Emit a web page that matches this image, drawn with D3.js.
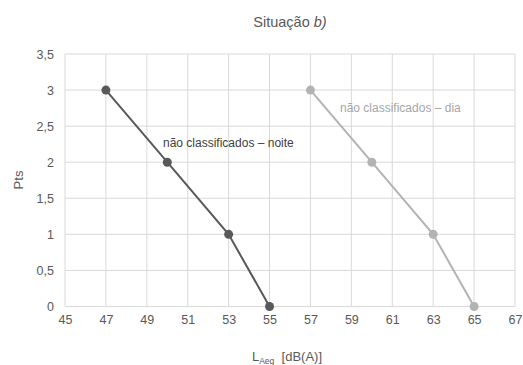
<!DOCTYPE html>
<html>
<head>
<meta charset="utf-8">
<script src="https://cdn.jsdelivr.net/npm/d3@7"></script>
<style>
  body { margin: 0; background: #fff; }
  svg, svg text { font-family: "Liberation Sans", Arial, sans-serif; }
</style>
</head>
<body>
<svg id="chart" width="523" height="365"></svg>
<script>
const noiteX = [47, 50, 53, 55]
const noiteY = [3, 2, 1, 0]
const diaX = [57, 60, 63, 65]
const diaY = [3, 2, 1, 0]
const xTicks = [45, 47, 49, 51, 53, 55, 57, 59, 61, 63, 65, 67]
const yTicks = [0, 0.5, 1, 1.5, 2, 2.5, 3, 3.5]

const margin = { top: 54, right: 8, bottom: 58.5, left: 65 }
const width = 523, height = 365

const svg = d3.select('#chart')
const x = d3.scaleLinear().domain([45, 67]).range([margin.left, width - margin.right])
const y = d3.scaleLinear().domain([0, 3.5]).range([height - margin.bottom, margin.top])
const fmt = (d) => String(d).replace('.', ',')

// grid
svg.append('g').selectAll('line').data(xTicks).enter().append('line')
  .attr('x1', (d) => x(d)).attr('x2', (d) => x(d))
  .attr('y1', y(0)).attr('y2', y(3.5))
  .attr('stroke', '#d9d9d9').attr('stroke-width', 1)
svg.append('g').selectAll('line').data(yTicks).enter().append('line')
  .attr('x1', x(45)).attr('x2', x(67))
  .attr('y1', (d) => y(d)).attr('y2', (d) => y(d))
  .attr('stroke', '#d9d9d9').attr('stroke-width', 1)

// axes
svg.append('g')
  .attr('transform', `translate(0,${y(0)})`)
  .call(d3.axisBottom(x).tickValues(xTicks).tickSize(0).tickPadding(9).tickFormat(fmt))
svg.append('g')
  .attr('transform', `translate(${x(45)},0)`)
  .call(d3.axisLeft(y).tickValues(yTicks).tickSize(0).tickPadding(11).tickFormat(fmt))
svg.selectAll('.domain').remove()
svg.selectAll('.tick text').attr('fill', '#595959')
  .style('font-size', '12.5px').style('font-family', '"Liberation Sans", Arial, sans-serif')

// series
const series = [
  { xs: noiteX, ys: noiteY, color: '#595959' },
  { xs: diaX, ys: diaY, color: '#b3b3b3' },
]
const line = d3.line().x((d) => x(d[0])).y((d) => y(d[1]))
series.forEach((s) => {
  const pts = s.xs.map((v, i) => [v, s.ys[i]])
  svg.append('path').datum(pts)
    .attr('d', line).attr('fill', 'none')
    .attr('stroke', s.color).attr('stroke-width', 2)
  svg.append('g').selectAll('circle').data(pts).enter().append('circle')
    .attr('cx', (d) => x(d[0])).attr('cy', (d) => y(d[1]))
    .attr('r', 4.5).attr('fill', s.color)
})

// series labels
svg.append('text').attr('x', 163).attr('y', 147)
  .attr('fill', '#404040').style('font-size', '12px')
  .text('não classificados – noite')
svg.append('text').attr('x', 340).attr('y', 112)
  .attr('fill', '#a6a6a6').style('font-size', '12px')
  .text('não classificados – dia')

// title
const title = svg.append('text').attr('x', 290).attr('y', 27)
  .attr('text-anchor', 'middle').attr('fill', '#595959').style('font-size', '14.5px')
title.append('tspan').text('Situação ')
title.append('tspan').style('font-style', 'italic').text('b)')

// axis titles
svg.append('text').attr('transform', 'translate(23,180) rotate(-90)')
  .attr('text-anchor', 'middle').attr('fill', '#595959').style('font-size', '13px')
  .text('Pts')
const xl = svg.append('text').attr('x', 287).attr('y', 361)
  .attr('text-anchor', 'middle').attr('fill', '#595959').style('font-size', '13px')
xl.append('tspan').text('L')
xl.append('tspan').attr('dy', 3).style('font-size', '8.5px').text('Aeq')
xl.append('tspan').attr('dy', -3).text('\u00a0 [dB(A)]')
</script>
</body>
</html>
